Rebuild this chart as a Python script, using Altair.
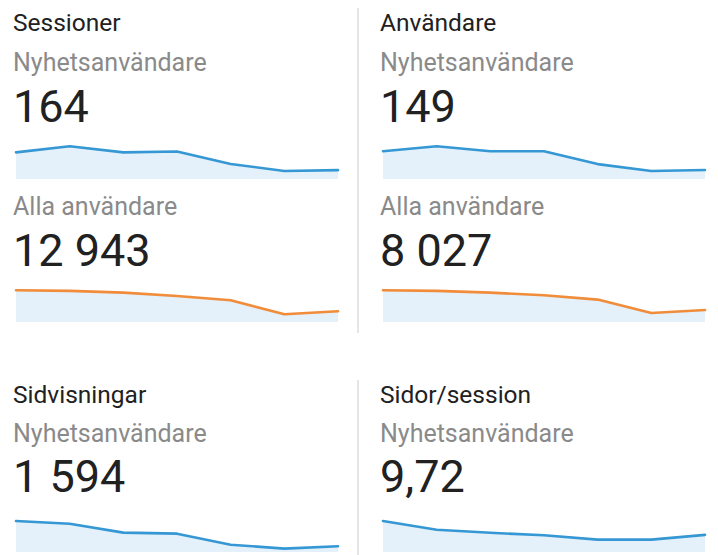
import altair as alt
import pandas as pd

# ---- data ----
metrics = ["Sessioner", "Användare", "Sidvisningar", "Sidor/session"]
segment_new = "Nyhetsanvändare"
segment_all = "Alla användare"
totals_new = ["164", "149", "1 594", "9,72"]
totals_all = ["12 943", "8 027"]

days = [0, 1, 2, 3, 4, 5, 6]
sessions_new = [30, 37, 30, 31, 17, 9, 10]
users_new = [28, 33, 28, 28, 15, 8, 9]
sessions_all = [2594, 2540, 2403, 2130, 1775, 627, 874]
users_all = [1569, 1536, 1453, 1321, 1107, 446, 595]
pageviews_new = [436, 398, 272, 258, 103, 47, 80]
pages_per_session_new = [14.5, 10.4, 9.0, 7.8, 5.8, 5.8, 8.0]

# ---- styles ----
FONT = "Roboto"
DARK = "#212121"
GRAY = "#8a8a8a"
BLUE = "#3598d4"
ORANGE = "#f08c3a"
FILL = "#e4f0fa"
DIV = "#dcdcdc"
PANEL_W = 322
SPARK_H = 40
GAP = 45
T_SIZE = 24.5
S_SIZE = 25
N_SIZE = 45


def text_item(label, y, size, color):
    return alt.Chart(pd.DataFrame({"label": [label]})).mark_text(
        align="left", baseline="alphabetic", font=FONT, fontSize=size, color=color
    ).encode(x=alt.value(-3), y=alt.value(y), text="label:N")


def divider(y1, y2):
    # thin filled rect (no stroke) so that it does not grow the row bounds
    return alt.Chart(pd.DataFrame({"d": [0]})).mark_rect(
        color=DIV, strokeWidth=0
    ).encode(x=alt.value(-25.75), x2=alt.value(-24.25), y=alt.value(y1), y2=alt.value(y2))


def block(items, height, dividers=()):
    layers = [text_item(*it) for it in items] + [divider(a, b) for a, b in dividers]
    return alt.layer(*layers).properties(width=PANEL_W, height=height)


def spark(values, color, headroom, dividers=()):
    df = pd.DataFrame({"day": days, "value": values})
    x = alt.X("day:Q", scale=alt.Scale(domain=[days[0], days[-1]], nice=False, zero=False), axis=None)
    y = alt.Y("value:Q", scale=alt.Scale(domain=[0, max(values) * headroom], nice=False), axis=None)
    base = alt.Chart(df).encode(x=x, y=y)
    area = base.mark_area(color=FILL, opacity=1)
    line = base.mark_line(color=color, strokeWidth=2.6, strokeJoin="round", strokeCap="round")
    layers = [area, line] + [divider(a, b) for a, b in dividers]
    return alt.layer(*layers).properties(width=PANEL_W, height=SPARK_H)


def row(left, right):
    return alt.hconcat(left, right, spacing=GAP, bounds="flush")


b1 = row(
    block([(metrics[0], 31, T_SIZE, DARK), (segment_new, 71, S_SIZE, GRAY), (totals_new[0], 122, N_SIZE, DARK)], 139),
    block([(metrics[1], 31, T_SIZE, DARK), (segment_new, 71, S_SIZE, GRAY), (totals_new[1], 122, N_SIZE, DARK)], 139,
          [(8, 139)]),
)
b2 = row(
    spark(sessions_new, BLUE, 1.22),
    spark(users_new, BLUE, 1.22, [(0, SPARK_H)]),
)
b3 = row(
    block([(segment_all, 36, S_SIZE, GRAY), (totals_all[0], 87, N_SIZE, DARK)], 103),
    block([(segment_all, 36, S_SIZE, GRAY), (totals_all[1], 87, N_SIZE, DARK)], 103, [(0, 103)]),
)
b4 = row(
    spark(sessions_all, ORANGE, 1.26),
    spark(users_all, ORANGE, 1.26, [(0, SPARK_H)]),
)
b5 = row(
    block([(metrics[2], 81, T_SIZE, DARK), (segment_new, 120, S_SIZE, GRAY), (totals_new[2], 170, N_SIZE, DARK)], 190),
    block([(metrics[3], 81, T_SIZE, DARK), (segment_new, 120, S_SIZE, GRAY), (totals_new[3], 170, N_SIZE, DARK)], 190,
          [(0, 11), (58, 190)]),
)
b6 = row(
    spark(pageviews_new, BLUE, 1.29),
    spark(pages_per_session_new, BLUE, 1.29, [(0, SPARK_H + 3)]),
)

chart = alt.vconcat(b1, b2, b3, b4, b5, b6, spacing=0).properties(
    padding={"left": 13, "top": 0, "right": 0, "bottom": 0},
    background="white",
).configure_view(strokeWidth=0)

chart.save("out.html", embed_options={"renderer": "svg", "actions": False})
